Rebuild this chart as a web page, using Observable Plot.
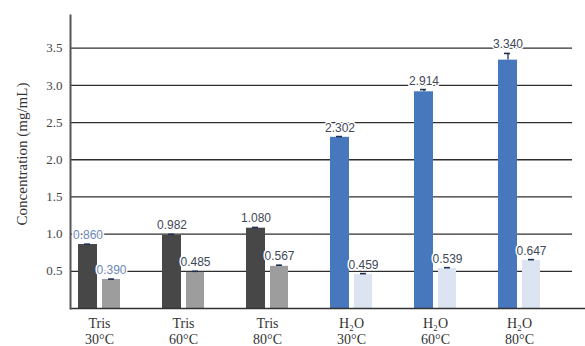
<!DOCTYPE html>
<html><head><meta charset="utf-8">
<script src="https://cdn.jsdelivr.net/npm/d3@7"></script>
<script src="https://cdn.jsdelivr.net/npm/@observablehq/plot@0.6"></script>
<style>body{margin:0;background:#fff}</style>
</head><body><div id="chart"></div>
<script>
const groups = ["Tris\n30°C","Tris\n60°C","Tris\n80°C","H₂O\n30°C","H₂O\n60°C","H₂O\n80°C"];
const solvents = ["Tris","Tris","Tris","H2O","H2O","H2O"];
const darkValues = [0.860, 0.982, 1.080, 2.302, 2.914, 3.340];
const darkErrors = [0.005, 0.015, 0.01, 0.01, 0.03, 0.09];
const lightValues = [0.390, 0.485, 0.567, 0.459, 0.539, 0.647];
const lightErrors = [0.005, 0.015, 0.015, 0.01, 0.01, 0.01];
const darkLabels = ["0.860","0.982","1.080","2.302","2.914","3.340"];
const lightLabels = ["0.390","0.485","0.567","0.459","0.539","0.647"];
const yTicks = [0.5, 1.0, 1.5, 2.0, 2.5, 3.0, 3.5];
const yTitle = "Concentration (mg/mL)";

const dark = groups.map((g, i) => ({group: g, solvent: solvents[i], value: darkValues[i], err: darkErrors[i], label: darkLabels[i]}));
const light = groups.map((g, i) => ({group: g, solvent: solvents[i], value: lightValues[i], err: lightErrors[i], label: lightLabels[i]}));

const darkFill = d => d.solvent === "Tris" ? "#474747" : "#4777bd";
const lightFill = d => d.solvent === "Tris" ? "#9d9d9d" : "#dbe4f0";
const labelFill = d => d.group === groups[0] ? "#6d88b5" : "#3f4858";
const errColor = "#1f2f55";
const labelFont = "Liberation Sans Narrow, Liberation Sans, Arial, sans-serif";
const serif = "Liberation Serif, Times New Roman, serif";

const chart = Plot.plot({
  width: 585,
  height: 346,
  marginLeft: 70,
  marginRight: 13,
  marginTop: 15,
  marginBottom: 38,
  style: {fontFamily: serif, background: "#fff", color: "#333"},
  x: {domain: groups, paddingInner: 0.5, paddingOuter: 0.238, align: 0.2},
  y: {domain: [0, 3.94]},
  marks: [
    Plot.ruleY(yTicks, {stroke: "#2e2e2e", strokeWidth: 1.3}),
    Plot.barY(dark, {x: "group", y: "value", fill: darkFill, insetRight: 23}),
    Plot.barY(light, {x: "group", y: "value", fill: lightFill, insetLeft: 24}),
    Plot.ruleX(dark, {x: "group", y1: "value", y2: d => d.value + d.err, dx: -11.5, stroke: errColor, strokeWidth: 1.3}),
    Plot.ruleX(light, {x: "group", y1: "value", y2: d => d.value + d.err, dx: 12, stroke: errColor, strokeWidth: 1.3}),
    Plot.tickY(dark, {x: "group", y: d => d.value + d.err, insetLeft: 6, insetRight: 30, stroke: errColor, strokeWidth: 1.6}),
    Plot.tickY(light, {x: "group", y: d => d.value + d.err, insetLeft: 30, insetRight: 6, stroke: errColor, strokeWidth: 1.6}),
    Plot.text(dark, {x: "group", y: d => d.value + d.err, text: "label", dx: -11.5, dy: -5, lineAnchor: "bottom", fill: labelFill, stroke: "white", strokeWidth: 3, fontSize: 12, fontFamily: labelFont}),
    Plot.text(light, {x: "group", y: d => d.value + d.err, text: "label", dx: 12, dy: -5, lineAnchor: "bottom", fill: labelFill, stroke: "white", strokeWidth: 3, fontSize: 12, fontFamily: labelFont}),
    Plot.ruleY([0], {stroke: "#333", strokeWidth: 1.5, insetRight: -13}),
    Plot.frame({anchor: "left", stroke: "#555", strokeWidth: 2}),
    Plot.axisY(yTicks, {tickSize: 0, tickPadding: 8, fontSize: 13, fontFamily: serif, fill: "#444", tickFormat: d => d.toFixed(1), label: null}),
    Plot.axisX({tickSize: 0, tickPadding: 9, fontSize: 14, fontFamily: serif, lineHeight: 1.1, fill: "#333", label: null}),
    Plot.text([yTitle], {frameAnchor: "left", textAnchor: "middle", rotate: -90, dx: -48, dy: -8, fontSize: 15, fontFamily: serif, fill: "#333"})
  ]
});
document.getElementById("chart").appendChild(chart);
</script>
</body></html>
